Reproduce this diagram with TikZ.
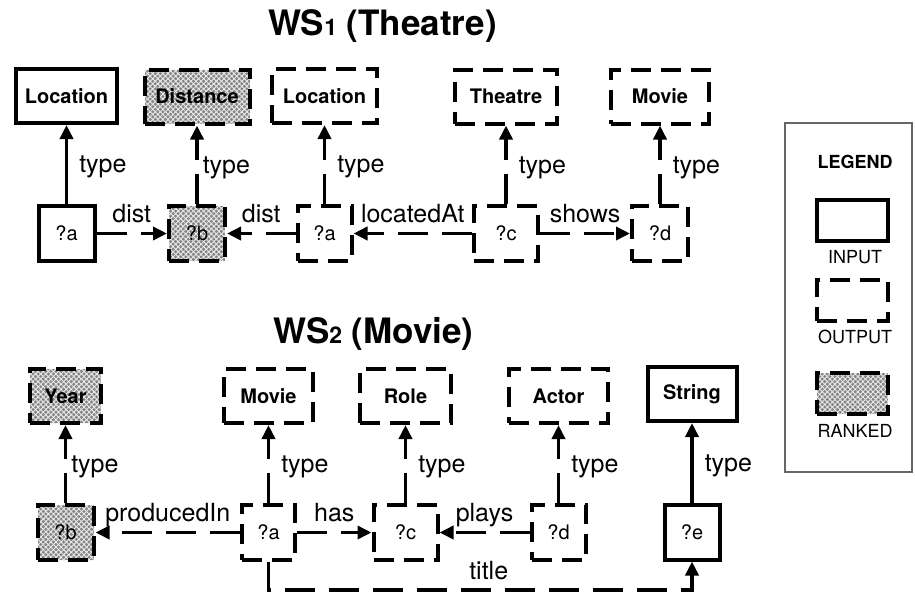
\documentclass[tikz,border=0pt]{standalone}
\usepackage{fontspec}
\setmainfont{TeX Gyre Heros}
\usetikzlibrary{arrows.meta,patterns.meta}

\begin{document}
\begin{tikzpicture}[x=1pt,y=-1pt,
    box/.style={draw,line width=4pt,inner sep=0pt,minimum height=54pt},
    inbox/.style={box},
    outbox/.style={box,dash pattern=on 20pt off 10pt},
    rankbox/.style={outbox,preaction={fill=black!48},
      preaction={pattern={Lines[angle=45,distance=3.6pt,line width=.9pt]},pattern color=black!8},
      preaction={pattern={Lines[angle=-45,distance=3.6pt,line width=.9pt]},pattern color=black!8}},
    cls/.style={font=\bfseries\fontsize{20}{24}\selectfont},
    var/.style={font=\fontsize{20}{24}\selectfont,minimum width=56pt,minimum height=55pt},
    inedge/.style={line width=3.5pt,-{Triangle[length=14pt,width=13pt]}},
    outedge/.style={inedge,dash pattern=on 30pt off 14pt},
    lbl/.style={font=\fontsize{25}{30}\selectfont,inner sep=0pt,text depth=0pt},
    leg/.style={font=\fontsize{18}{22}\selectfont,inner sep=0pt},
    wstitle/.style={font=\bfseries\fontsize{35}{42}\selectfont,anchor=base}
  ]
    \useasboundingbox (0,0) rectangle (915,598);

    % WS1
    \node[wstitle] (ws1) at (382.5,35) {WS{\fontsize{23}{28}\selectfont 1} (Theatre)};
    \node[inbox,cls,minimum width=101pt] (loc) at (66.5,96) {Location};
    \node[rankbox,cls,minimum width=105pt] (distance) at (197,96.5) {Distance};
    \node[outbox,cls,minimum width=105pt] (locout) at (324.5,96) {Location};
    \node[outbox,cls,minimum width=102pt] (theatre) at (506,96.5) {Theatre};
    \node[outbox,cls,minimum width=98pt] (movie) at (660,96.5) {Movie};
    \node[inbox,var] (a) at (66.5,233.5) {?a};
    \node[rankbox,var] (b) at (197,233.5) {?b};
    \node[outbox,var,minimum width=54pt] (aout) at (324.5,233.5) {?a};
    \node[outbox,var,minimum width=64pt] (c) at (506,233.5) {?c};
    \node[outbox,var] (d) at (660,233.5) {?d};

    \draw[inedge] (a) -- node[lbl,right=11pt]{type} (loc);
    \draw[outedge] (b) -- node[lbl,right=4pt]{type} (distance);
    \draw[outedge] (aout) -- node[lbl,right=11pt]{type} (locout);
    \draw[outedge] (c) -- node[lbl,right=11pt]{type} (theatre);
    \draw[outedge] (d) -- node[lbl,right=11pt]{type} (movie);
    \draw[outedge] (a) -- node[lbl,above=9pt]{dist} (b);
    \draw[outedge] (aout) -- node[lbl,above=9pt]{dist} (b);
    \draw[outedge] (c) -- node[lbl,above=9pt]{locatedAt} (aout);
    \draw[outedge] (c) -- node[lbl,above=9pt]{shows} (d);

    % WS2
    \node[wstitle] (ws2) at (373.5,343) {WS{\fontsize{23}{28}\selectfont 2} (Movie)};
    \node[rankbox,cls,minimum width=71pt] (year) at (65.5,396) {Year};
    \node[outbox,cls,minimum width=89pt] (movietwo) at (268.5,396) {Movie};
    \node[outbox,cls,minimum width=91pt] (role) at (405.5,396) {Role};
    \node[outbox,cls,minimum width=99pt] (actor) at (558.5,396) {Actor};
    \node[inbox,cls,minimum width=89pt] (string) at (692,394) {String};
    \node[rankbox,var] (b2) at (65.5,532.5) {?b};
    \node[outbox,var,minimum width=53pt] (a2) at (268.5,532.5) {?a};
    \node[outbox,var,minimum width=64pt] (c2) at (405.5,532.5) {?c};
    \node[outbox,var,minimum width=54pt] (d2) at (558.5,532.5) {?d};
    \node[inbox,var,minimum width=55pt] (e2) at (692,532) {?e};
    \coordinate (titlebend) at (268.5,590);

    \draw[outedge] (b2) -- node[lbl,right=4pt]{type} (year);
    \draw[outedge] (a2) -- node[lbl,right=11pt]{type} (movietwo);
    \draw[outedge] (c2) -- node[lbl,right=11pt]{type} (role);
    \draw[outedge] (d2) -- node[lbl,right=11pt]{type} (actor);
    \draw[inedge] (e2) -- node[lbl,right=11pt]{type} (string);
    \draw[outedge] (a2) -- node[lbl,above=9pt]{producedIn} (b2);
    \draw[outedge] (a2) -- node[lbl,above=9pt]{has} (c2);
    \draw[outedge] (d2) -- node[lbl,above=9pt]{plays} (c2);
    \draw[outedge] (a2) -- (titlebend) -| node[lbl,above=9pt,pos=.26]{title} (e2);

    % legend
    \draw[black!60,line width=1.5pt] (785,123) rectangle (912,472);
    \node[leg,font=\bfseries\fontsize{18}{22}\selectfont] (legend) at (855,161.5) {LEGEND};
    \foreach \s/\t/\y in {inbox/INPUT/220,outbox/OUTPUT/300,rankbox/RANKED/393.5}{
      \node[\s,minimum width=71pt,minimum height=41pt] (\s key) at (852.5,\y) {};
      \node[leg] (\s text) at (855,\y+37) {\t};
    }
  \end{tikzpicture}
\end{document}
